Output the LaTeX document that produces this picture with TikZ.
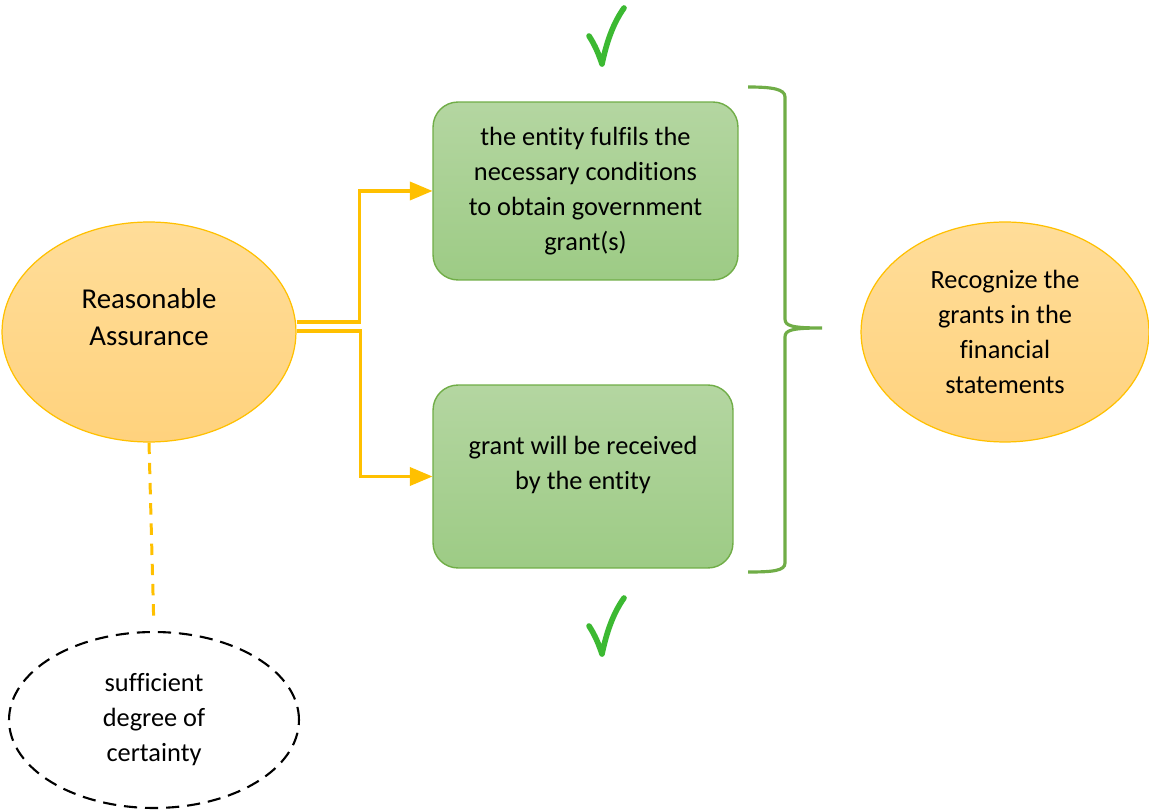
\documentclass[tikz,border=0pt]{standalone}
\usepackage{fontspec}
\setmainfont{Carlito}[Ligatures=NoCommon]
\usepackage{tikz}
\usetikzlibrary{shapes,arrows,positioning}

\definecolor{goldline}{RGB}{255,192,0}
\definecolor{goldtop}{RGB}{255,221,153}
\definecolor{goldbot}{RGB}{255,210,125}
\definecolor{leafline}{RGB}{112,173,71}
\definecolor{leaftop}{RGB}{180,214,161}
\definecolor{leafbot}{RGB}{157,203,133}
\definecolor{tickgreen}{RGB}{60,185,50}

\begin{document}
\begin{tikzpicture}[x=0.02cm, y=-0.02cm,
		oval/.style={ellipse, draw=goldline, line width=0.7pt, top color=goldtop, bottom color=goldbot,
			inner sep=0pt, align=center, font=\fontsize{15}{19.9}\selectfont},
		condbox/.style={rectangle, rounded corners=0.5cm, draw=leafline, line width=0.8pt,
			top color=leaftop, bottom color=leafbot, inner sep=0pt, align=center,
			font=\fontsize{15}{19.9}\selectfont},
		link/.style={draw=goldline, line width=2pt, -triangle 45},
		tick/.style={draw=tickgreen, line width=3.2pt, line cap=round, line join=round}]
		\useasboundingbox (0,0) rectangle (1149,810);

		% nodes
		\node[oval, minimum width=5.88cm, minimum height=4.4cm, font=\fontsize{16.4}{21.6}\selectfont,
			text depth=0.6cm] (ra) at (149,332) {Reasonable\\Assurance};
		\node[condbox, minimum width=6.1cm, minimum height=3.56cm]
			(cond) at (585.5,191) {the entity fulfils the\\necessary conditions\\to obtain government\\grant(s)};
		\node[condbox, minimum width=6cm, minimum height=3.66cm, text depth=0.55cm]
			(grant) at (583,476.5) {grant will be received\\by the entity};
		\node[oval, minimum width=5.76cm, minimum height=4.4cm]
			(rec) at (1005,332) {Recognize the\\grants in the\\financial\\statements};
		\node[ellipse, draw=black, line width=1.2pt, dash pattern=on 7.5pt off 4.5pt,
			minimum width=5.8cm, minimum height=3.52cm, inner sep=0pt, align=center,
			font=\fontsize{15}{19.9}\selectfont]
			(cert) at (154,720) {sufficient\\degree of\\certainty};

		% connectors
		\draw[link] ([yshift=0.2cm]ra.east) -- ++(1.26cm,0) |- (cond.west);
		\draw[link] ([yshift=0.02cm]ra.east) -- ++(1.28cm,0) |- (grant.west);
		\draw[draw=goldline, line width=1.7pt, dash pattern=on 6.5pt off 5pt, shorten >=0.24cm]
			(ra.south) -- (cert.north);

		% brace
		\draw[draw=leafline, line width=1.8pt] (748,87) .. controls (772,87) and (785,89) .. (785,97)
			-- (785,319) .. controls (785,326) and (792,328) .. (822,328)
			.. controls (792,328) and (785,330) .. (785,337)
			-- (785,563) .. controls (785,571) and (772,572) .. (748,572);

		% ticks
		\draw[tick] (589,36) .. controls (595,45) and (599,55) .. (602,64) .. controls (607,40) and (614,22) .. (624,8);
		\draw[tick] (589,626) .. controls (595,635) and (599,645) .. (602,654) .. controls (607,630) and (614,612) .. (624,598);
\end{tikzpicture}
\end{document}
